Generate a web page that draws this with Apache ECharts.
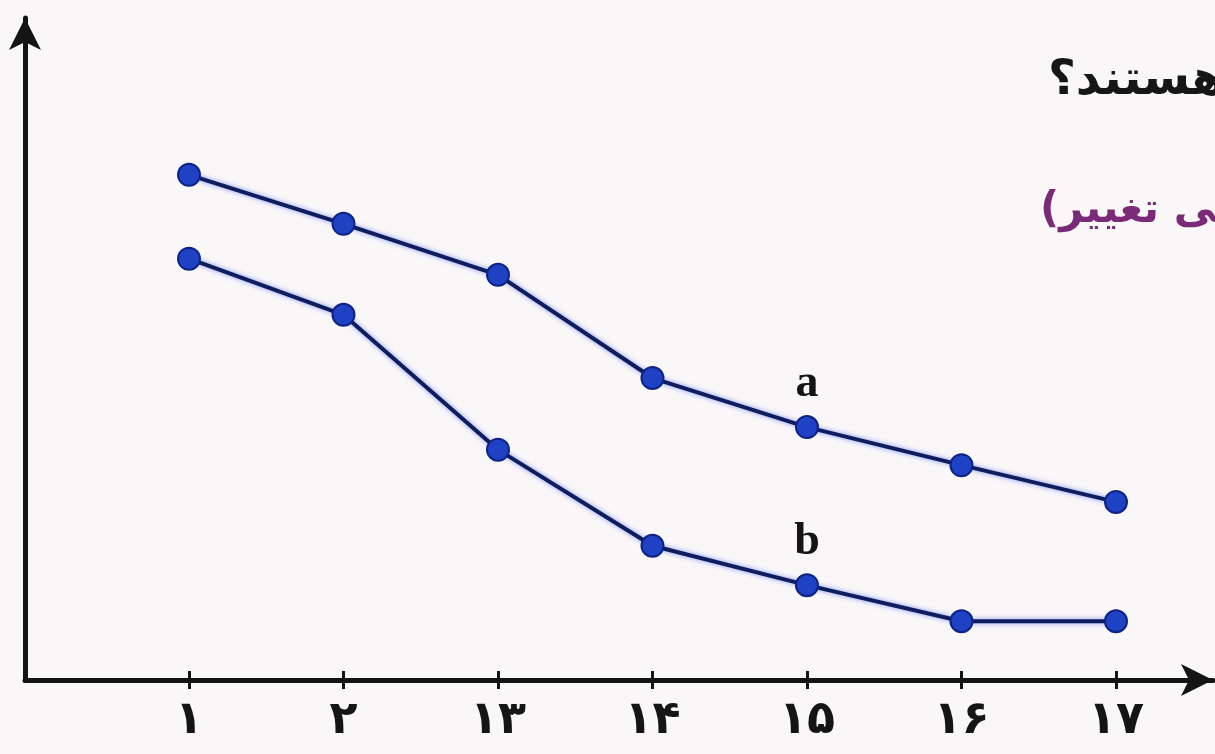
<!DOCTYPE html>
<html>
<head>
<meta charset="utf-8">
<script src="https://cdn.jsdelivr.net/npm/echarts@6/dist/echarts.min.js"></script>
<style>
  html, body { margin: 0; padding: 0; background: #faf7f9; }
  #chart { width: 1215px; height: 754px; }
</style>
</head>
<body>
<div id="chart"></div>
<script>
// x categories (Persian digits) and their positions on the axis
const xLabels = ["۱", "۲", "۱۳", "۱۴", "۱۵", "۱۶", "۱۷"];
const xIndex = [0, 1, 2, 3, 4, 5, 6];

// series values (arbitrary units)
const seriesA = [78.3, 70.7, 62.8, 46.8, 39.2, 33.3, 27.6];
const seriesB = [65.3, 56.6, 35.7, 20.8, 14.7, 9.1, 9.1];

// index of the point carrying the series name label
const nameLabelAt = 4;

const chart = echarts.init(document.getElementById("chart"));

function buildData(values, name) {
  return values.map((v, i) => {
    const item = { value: [xIndex[i], v] };
    if (i === nameLabelAt) {
      item.label = {
        show: true,
        position: "top",
        distance: 8,
        formatter: name,
        fontFamily: "Liberation Serif",
        fontSize: 46,
        fontWeight: "bold",
        color: "#151515",
      };
    }
    return item;
  });
}

function lineSeries(name, values) {
  return {
    name: name,
    type: "line",
    data: buildData(values, name),
    symbol: "circle",
    symbolSize: 22,
    itemStyle: { color: "#1f42c4", borderColor: "#0d2386", borderWidth: 2 },
    lineStyle: {
      color: "#0f1c5e",
      width: 4,
      shadowColor: "rgba(40,80,230,0.6)",
      shadowBlur: 5,
    },
    emphasis: { disabled: true },
  };
}

const axisBlack = "#141414";
const xMin = -1.0615;
const xMax = 6.628;

const option = {
  backgroundColor: "#faf7f9",
  animation: false,
  grid: { left: 25, right: 2, top: 18, bottom: 74 },
  xAxis: [
    {
      type: "value",
      min: xMin,
      max: xMax,
      splitLine: { show: false },
      axisLine: {
        show: true,
        onZero: false,
        symbol: ["none", "arrow"],
        symbolSize: [24, 32],
        lineStyle: { color: axisBlack, width: 5 },
      },
      axisTick: {
        show: true,
        customValues: xIndex,
        length: 9,
        lineStyle: { color: axisBlack, width: 3 },
      },
      axisLabel: {
        show: true,
        customValues: xIndex,
        formatter: (v) => xLabels[Math.round(v)] ?? "",
        margin: 18,
        fontFamily: "DejaVu Sans",
        fontSize: 46,
        fontWeight: "bold",
        color: "#151515",
      },
    },
    {
      type: "value",
      position: "bottom",
      min: xMin,
      max: xMax,
      splitLine: { show: false },
      axisLine: { show: false },
      axisTick: {
        show: true,
        inside: true,
        customValues: xIndex,
        length: 9,
        lineStyle: { color: axisBlack, width: 3 },
      },
      axisLabel: { show: false },
    },
  ],
  yAxis: {
    type: "value",
    min: 0,
    max: 102.6,
    splitLine: { show: false },
    axisTick: { show: false },
    axisLabel: { show: false },
    axisLine: {
      show: true,
      onZero: false,
      symbol: ["none", "arrow"],
      symbolSize: [24, 32],
      lineStyle: { color: axisBlack, width: 5 },
    },
  },
  graphic: [
    {
      type: "text",
      left: 1048,
      top: 58,
      style: {
        text: "هستند؟",
        fontFamily: "DejaVu Sans",
        fontSize: 48,
        fontWeight: "bold",
        fill: "#161616",
      },
    },
    {
      type: "text",
      left: 1040,
      top: 190,
      style: {
        text: "قابلی تغییر)\u200F",
        fontFamily: "DejaVu Sans",
        fontSize: 42,
        fontWeight: "bold",
        fill: "#7b2a78",
      },
    },
  ],
  series: [lineSeries("a", seriesA), lineSeries("b", seriesB)],
};

chart.setOption(option);
window.addEventListener("resize", () => chart.resize());
</script>
</body>
</html>
